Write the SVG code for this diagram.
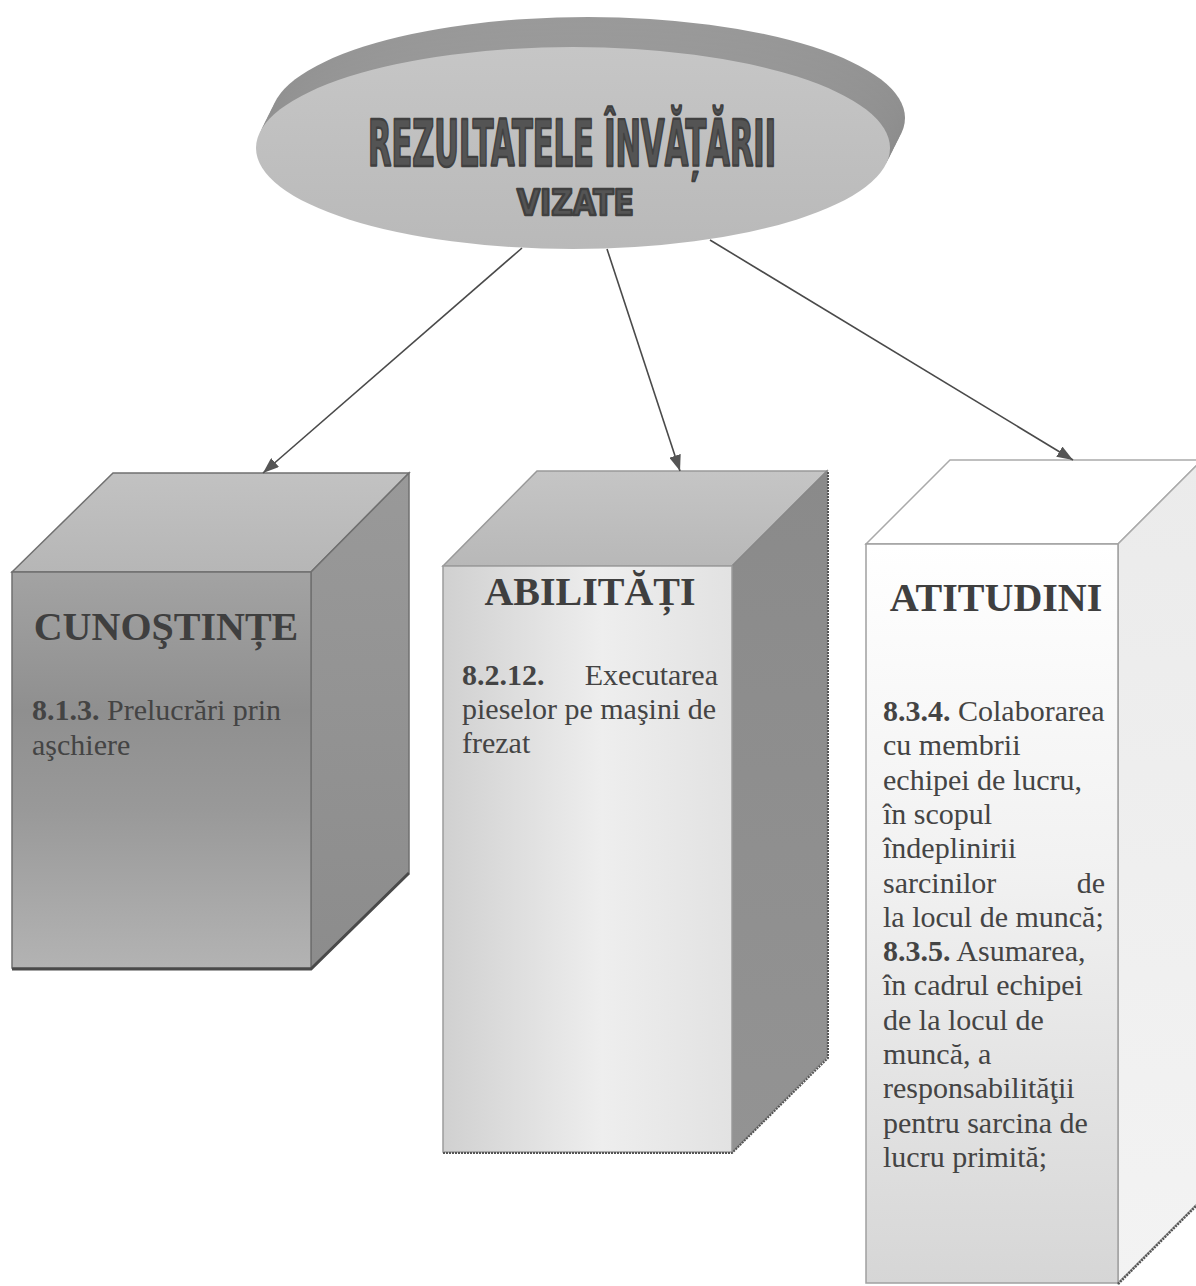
<svg xmlns="http://www.w3.org/2000/svg" width="1196" height="1286" viewBox="0 0 1196 1286">
<defs>
<style>
.hd{font-family:"Liberation Serif","Times New Roman",serif;font-weight:bold;font-size:40px;fill:#3f3f3f;text-anchor:middle}
.bd{font-family:"Liberation Serif","Times New Roman",serif;font-size:30px;fill:#444}
.b{font-weight:bold}
.conn{stroke:#4a4a4a;stroke-width:1.6;fill:none}
.ttl{font-family:"Liberation Sans Narrow","DejaVu Sans Condensed","DejaVu Sans",sans-serif;font-stretch:condensed;font-weight:bold;fill:#545454;stroke:#404040;stroke-width:2.4;stroke-linejoin:round}
.rim{fill:url(#rimG)}
</style>
<linearGradient id="rimG" x1="0" y1="0" x2="0" y2="1"><stop offset="0" stop-color="#9a9a9a"/><stop offset="1" stop-color="#828282"/></linearGradient>
<linearGradient id="faceG" x1="0" y1="0" x2="0" y2="1"><stop offset="0" stop-color="#c6c6c6"/><stop offset="1" stop-color="#b9b9b9"/></linearGradient>
<linearGradient id="g1front" x1="0" y1="0" x2="0" y2="1"><stop offset="0" stop-color="#a3a3a3"/><stop offset="0.35" stop-color="#8f8f8f"/><stop offset="0.6" stop-color="#999"/><stop offset="1" stop-color="#b3b3b3"/></linearGradient>
<linearGradient id="g1top" x1="0" y1="1" x2="0" y2="0"><stop offset="0" stop-color="#b6b6b6"/><stop offset="1" stop-color="#c2c2c2"/></linearGradient>
<linearGradient id="g1right" x1="0" y1="0" x2="0" y2="1"><stop offset="0" stop-color="#999"/><stop offset="1" stop-color="#8c8c8c"/></linearGradient>
<linearGradient id="g2front" x1="0" y1="0" x2="1" y2="0"><stop offset="0" stop-color="#d0d0d0"/><stop offset="0.55" stop-color="#eeeeee"/><stop offset="1" stop-color="#e2e2e2"/></linearGradient>
<linearGradient id="g2top" x1="0" y1="1" x2="0" y2="0"><stop offset="0" stop-color="#b8b8b8"/><stop offset="1" stop-color="#c5c5c5"/></linearGradient>
<linearGradient id="g2right" x1="0" y1="0" x2="0" y2="1"><stop offset="0" stop-color="#8a8a8a"/><stop offset="1" stop-color="#939393"/></linearGradient>
<linearGradient id="g3front" x1="0" y1="0" x2="0" y2="1"><stop offset="0" stop-color="#ffffff"/><stop offset="0.45" stop-color="#f1f1f1"/><stop offset="1" stop-color="#d6d6d6"/></linearGradient>
<linearGradient id="g3right" x1="0" y1="0" x2="0" y2="1"><stop offset="0" stop-color="#ebebeb"/><stop offset="1" stop-color="#f3f3f3"/></linearGradient>
<marker id="arr" viewBox="0 0 16 12" refX="16" refY="6" markerWidth="16" markerHeight="12" markerUnits="userSpaceOnUse" orient="auto">
<path d="M0,0 L16,6 L0,12 z" fill="#555"/>
</marker>
</defs>
<rect width="1196" height="1286" fill="#fff"/>

<g id="title">
<ellipse class="rim" cx="588" cy="118" rx="317" ry="101"/>
<ellipse class="rim" cx="585" cy="124" rx="317" ry="101"/>
<ellipse class="rim" cx="582" cy="130" rx="317" ry="101"/>
<ellipse class="rim" cx="579" cy="136" rx="317" ry="101"/>
<ellipse class="rim" cx="576" cy="142" rx="317" ry="101"/>
<ellipse cx="573" cy="148" rx="317" ry="101" fill="url(#faceG)"/>
<text class="ttl" x="368" y="166" font-size="64" textLength="408" lengthAdjust="spacingAndGlyphs">REZULTATELE ÎNVĂȚĂRII</text>
<text class="ttl" x="517" y="215" font-size="36" textLength="117" lengthAdjust="spacingAndGlyphs">VIZATE</text>
</g>

<g id="box-cunostinte">
<polygon points="12,572 113,473 409,473 311,572" fill="url(#g1top)" stroke="#707070" stroke-width="1.5"/>
<polygon points="311,572 409,473 409,873 311,968" fill="url(#g1right)" stroke="#707070" stroke-width="1.5"/>
<rect x="12" y="572" width="299" height="396" fill="url(#g1front)" stroke="#707070" stroke-width="1.5"/>
<polyline points="12,969 311,969 409,873" fill="none" stroke="#4a4a4a" stroke-width="3"/>
<text class="hd" x="166" y="640">CUNOŞTINȚE</text>
<text class="bd" x="32" y="720"><tspan class="b">8.1.3.</tspan> Prelucrări prin</text>
<text class="bd" x="32" y="755">aşchiere</text>
</g>

<g id="box-abilitati">
<polygon points="443,566 537,471 827,471 732,566" fill="url(#g2top)" stroke="#999" stroke-width="1.5"/>
<polygon points="732,566 827,471 827,1057 732,1152" fill="url(#g2right)" stroke="#888" stroke-width="1.5"/>
<rect x="443" y="566" width="289" height="586" fill="url(#g2front)" stroke="#9c9c9c" stroke-width="1.5"/>
<polyline points="443,1153 732,1153 828,1058 828,471" fill="none" stroke="#555" stroke-width="2" stroke-dasharray="2 1"/>
<text class="hd" x="590" y="605">ABILITĂȚI</text>
<text class="bd" x="462" y="685"><tspan class="b">8.2.12.</tspan></text>
<text class="bd" x="718" y="685" text-anchor="end">Executarea</text>
<text class="bd" x="462" y="719">pieselor pe maşini de</text>
<text class="bd" x="462" y="753">frezat</text>
</g>

<g id="box-atitudini">
<polygon points="866,544 950,460 1202,460 1118,544" fill="#fff" stroke="#aaa" stroke-width="1.5"/>
<polygon points="1118,544 1202,460 1202,1199 1118,1283" fill="url(#g3right)" stroke="#aaa" stroke-width="1.5"/>
<rect x="866" y="544" width="252" height="739" fill="url(#g3front)" stroke="#a0a0a0" stroke-width="1.5"/>
<line x1="1118" y1="1284" x2="1202" y2="1200" stroke="#555" stroke-width="2.5" stroke-dasharray="2 1"/>
<text class="hd" x="996" y="611" font-size="39">ATITUDINI</text>
<text class="bd" x="883" y="721"><tspan class="b">8.3.4.</tspan> Colaborarea</text>
<text class="bd" x="883" y="755.3">cu membrii</text>
<text class="bd" x="883" y="789.6">echipei de lucru,</text>
<text class="bd" x="883" y="823.9">în scopul</text>
<text class="bd" x="883" y="858.2">îndeplinirii</text>
<text class="bd" x="883" y="892.5">sarcinilor</text>
<text class="bd" x="1105" y="892.5" text-anchor="end">de</text>
<text class="bd" x="883" y="926.8">la locul de muncă;</text>
<text class="bd" x="883" y="961.1"><tspan class="b">8.3.5.</tspan> Asumarea,</text>
<text class="bd" x="883" y="995.4">în cadrul echipei</text>
<text class="bd" x="883" y="1029.7">de la locul de</text>
<text class="bd" x="883" y="1064">muncă, a</text>
<text class="bd" x="883" y="1098.3">responsabilităţii</text>
<text class="bd" x="883" y="1132.6">pentru sarcina de</text>
<text class="bd" x="883" y="1166.9">lucru primită;</text>
</g>

<g id="connectors">
<line class="conn" x1="522" y1="248" x2="263" y2="473" marker-end="url(#arr)"/>
<line class="conn" x1="607" y1="249" x2="680" y2="471" marker-end="url(#arr)"/>
<line class="conn" x1="710" y1="240" x2="1073" y2="460" marker-end="url(#arr)"/>
</g>
</svg>
